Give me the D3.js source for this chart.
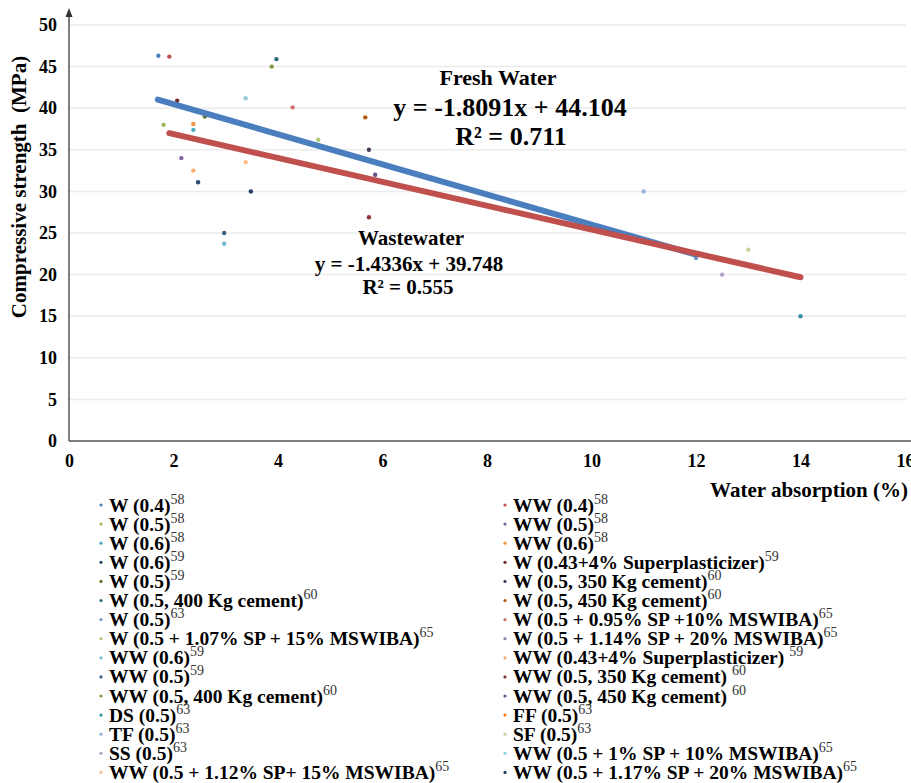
<!DOCTYPE html>
<html>
<head>
<meta charset="utf-8">
<script src="https://cdn.jsdelivr.net/npm/d3@7"></script>
<style>
  body { margin: 0; background: #fff; }
  text { font-family: "Liberation Serif", "Times New Roman", serif; }
</style>
</head>
<body>
<div class="chartBox"></div>
<script>
// series, in Excel order (legend reads left, right, left, right ...)
var seriesNames = [
  'W (0.4)', 'WW (0.4)', 'W (0.5)', 'WW (0.5)', 'W (0.6)', 'WW (0.6)',
  'W (0.6)', 'W (0.43+4% Superplasticizer)', 'W (0.5)', 'W (0.5, 350 Kg cement)',
  'W (0.5, 400 Kg cement)', 'W (0.5, 450 Kg cement)', 'W (0.5)', 'W (0.5 + 0.95% SP +10% MSWIBA)',
  'W (0.5 + 1.07% SP + 15% MSWIBA)', 'W (0.5 + 1.14% SP + 20% MSWIBA)', 'WW (0.6)',
  'WW (0.43+4% Superplasticizer) ', 'WW (0.5)', 'WW (0.5, 350 Kg cement) ',
  'WW (0.5, 400 Kg cement)', 'WW (0.5, 450 Kg cement) ', 'DS (0.5)', 'FF (0.5)',
  'TF (0.5)', 'SF (0.5)', 'SS (0.5)', 'WW (0.5 + 1% SP + 10% MSWIBA)',
  'WW (0.5 + 1.12% SP+ 15% MSWIBA)', 'WW (0.5 + 1.17% SP + 20% MSWIBA)'
];
var seriesRefs = ['58','58','58','58','58','58','59','59','59','60','60','60','63','65','65','65',
  '59','59','59','60','60','60','63','63','63','63','63','65','65','65'];
var seriesColors = [
  '#4f81bd', '#c0504d', '#9bbb59', '#8064a2', '#4bacc6', '#f79646',
  '#2c4d75', '#772c2a', '#5f7530', '#4d3b62', '#276a7c', '#b65708',
  '#729aca', '#cd7371', '#afc97a', '#9983b5', '#6fbdd1', '#f9ab6b',
  '#3a5f8b', '#8c3836', '#7e9c40', '#6a528a', '#338ea7', '#f57d1d',
  '#95b3d7', '#c3d69b', '#b3a2c7', '#93cddd', '#fac090', '#1f3b5e'
];
// water absorption (%) and compressive strength (MPa); null = not plotted
var absorption = [1.71, 1.92, 1.81, 2.15, 2.38, 2.38, 2.47, 2.07, 2.60, 5.74,
  3.97, 5.67, 12.0, 4.28, 4.77, null, 2.97, 2.38, 2.97, 5.74,
  3.88, 5.86, 14.0, null, 11.0, 13.0, 12.5, 3.38, 3.38, 3.48];
var strength = [46.3, 46.2, 38.0, 34.0, 37.4, 38.1, 31.1, 40.9, 39.0, 35.0,
  45.9, 38.9, 22.0, 40.1, 36.2, null, 23.7, 32.5, 25.0, 26.9,
  45.0, 32.0, 15.0, null, 30.0, 23.0, 20.0, 41.2, 33.5, 30.0];

var xTicks = [0, 2, 4, 6, 8, 10, 12, 14, 16];
var yTicks = [0, 5, 10, 15, 20, 25, 30, 35, 40, 45, 50];

// trend lines: slope, intercept, x range
var freshFit = { slope: -1.8091, icept: 44.104, from: 1.7, to: 12.0 };
var wasteFit = { slope: -1.4336, icept: 39.748, from: 1.92, to: 14.0 };

var w = 911, h = 783;
var svg = d3.select('.chartBox').append('svg')
  .attr('width', w)
  .attr('height', h);

var x = d3.scaleLinear().domain([0, 16]).range([69, 905]);
var y = d3.scaleLinear().domain([0, 50]).range([441, 25]);

// gridlines
svg.append('g').selectAll('line')
  .data(yTicks.slice(1))
  .enter()
  .append('line')
  .attr('x1', x(0)).attr('x2', 906)
  .attr('y1', function(d){ return y(d); })
  .attr('y2', function(d){ return y(d); })
  .attr('stroke', '#ececec')
  .attr('stroke-width', 1.5);

// axes
var xAxis = d3.axisBottom(x).tickValues(xTicks).tickSize(0).tickPadding(13);
var yAxis = d3.axisLeft(y).tickValues(yTicks).tickSize(0).tickPadding(12);

var gx = svg.append('g').attr('transform', 'translate(0,' + y(0) + ')').call(xAxis);
var gy = svg.append('g').attr('transform', 'translate(' + x(0) + ',0)').call(yAxis);
gx.select('.domain').remove();
gy.select('.domain').remove();
svg.selectAll('.tick text')
  .attr('font-family', '"Liberation Serif", serif')
  .attr('font-weight', 'bold')
  .attr('font-size', 18)
  .attr('fill', '#000');

svg.append('line')
  .attr('x1', x(0)).attr('x2', 911)
  .attr('y1', y(0)).attr('y2', y(0))
  .attr('stroke', '#7f7f7f').attr('stroke-width', 2);
svg.append('line')
  .attr('x1', x(0)).attr('x2', x(0))
  .attr('y1', y(0)).attr('y2', 14)
  .attr('stroke', '#555').attr('stroke-width', 1.5);
svg.append('path')
  .attr('d', 'M' + x(0) + ',8 l-3.5,9 l7,0 z')
  .attr('fill', '#333');

// points
var pts = d3.range(seriesNames.length).filter(function(i){ return absorption[i] != null; });
svg.append('g').selectAll('circle')
  .data(pts)
  .enter()
  .append('circle')
  .attr('cx', function(i){ return x(absorption[i]); })
  .attr('cy', function(i){ return y(strength[i]); })
  .attr('r', 2.2)
  .attr('fill', function(i){ return seriesColors[i]; });

// trend lines
var line = d3.line()
  .x(function(d){ return x(d); });
function drawFit(fit, color){
  svg.append('path')
    .datum([fit.from, fit.to])
    .attr('d', line.y(function(d){ return y(fit.slope * d + fit.icept); }))
    .attr('fill', 'none')
    .attr('stroke', color)
    .attr('stroke-width', 6)
    .attr('stroke-linecap', 'round');
}
drawFit(freshFit, '#4a7ebf');
drawFit(wasteFit, '#c0504d');

// equation labels
function label(txt, cx, by, size){
  return svg.append('text')
    .attr('x', cx).attr('y', by)
    .attr('text-anchor', 'middle')
    .attr('font-weight', 'bold')
    .attr('font-size', size)
    .attr('fill', '#000')
    .text(txt);
}
label('Fresh Water', 498, 85, 22);
label('y = -1.8091x + 44.104', 510, 116, 26);
label('R² = 0.711', 511, 145, 26);
label('Wastewater', 411, 245, 21);
label('y = -1.4336x + 39.748', 409, 271, 21);
label('R² = 0.555', 408, 294, 21);

// axis titles
svg.append('text')
  .attr('transform', 'translate(26,187) rotate(-90)')
  .attr('text-anchor', 'middle')
  .attr('font-weight', 'bold')
  .attr('font-size', 21)
  .attr('xml:space', 'preserve')
  .text('Compressive strength  (MPa)');
svg.append('text')
  .attr('x', 908).attr('y', 497)
  .attr('text-anchor', 'end')
  .attr('font-weight', 'bold')
  .attr('font-size', 21)
  .text('Water absorption (%)');

// legend, two columns filled row by row
var rowH = 19.1;
var legend = svg.append('g').selectAll('g')
  .data(d3.range(seriesNames.length))
  .enter()
  .append('g')
  .attr('transform', function(i){
    var col = i % 2, row = Math.floor(i / 2);
    return 'translate(' + (col ? 505 : 101) + ',' + (505 + row * rowH) + ')';
  });
legend.append('circle')
  .attr('r', 1.6)
  .attr('fill', function(i){ return seriesColors[i]; });
var lt = legend.append('text')
  .attr('x', 8).attr('y', 6.5)
  .attr('font-size', 19.5)
  .attr('xml:space', 'preserve');
lt.append('tspan')
  .attr('font-weight', 'bold')
  .text(function(i){ return seriesNames[i]; });
lt.append('tspan')
  .attr('font-size', 14)
  .attr('fill', '#333')
  .attr('dy', -8)
  .text(function(i){ return seriesRefs[i]; });
</script>
</body>
</html>
